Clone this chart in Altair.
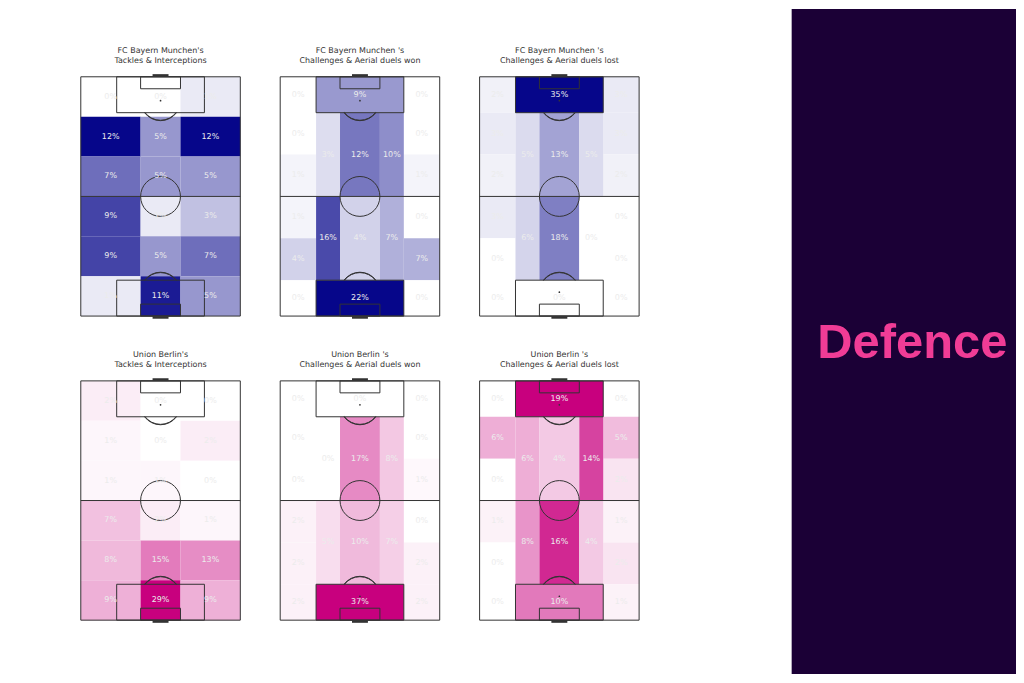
import altair as alt
import pandas as pd

# ---------------- data (percent of actions per zone) -------------
TEAMS = ["FC Bayern Munchen", "Union Berlin"]
SUBTITLES = ["Tackles & Interceptions", "Challenges & Aerial duels won", "Challenges & Aerial duels lost"]

# 3 x 6 grid, rows listed from top of pitch to bottom, columns left, centre, right
bayern_ti = [[0, 0, 1], [12, 5, 12], [7, 5, 5], [9, 1, 3], [9, 5, 7], [1, 11, 5]]
union_ti = [[2, 0, 0], [1, 0, 2], [1, 1, 0], [7, 2, 1], [8, 15, 13], [9, 29, 9]]

# positional grid: wide zones have 6 rows (top->bottom), half-spaces/centre 2 rows, boxes top/bottom
bayern_won = dict(wide_left=[0, 0, 1, 1, 4, 0], half_left=[3, 16], centre=[12, 4],
                  half_right=[10, 7], wide_right=[0, 0, 1, 0, 7, 0], boxes=[9, 22])
bayern_lost = dict(wide_left=[2, 3, 2, 3, 0, 0], half_left=[5, 6], centre=[13, 18],
                   half_right=[5, 0], wide_right=[3, 3, 2, 0, 0, 0], boxes=[35, 0])
union_won = dict(wide_left=[0, 0, 0, 2, 2, 2], half_left=[0, 5], centre=[17, 10],
                 half_right=[8, 7], wide_right=[0, 0, 1, 0, 2, 2], boxes=[0, 37])
union_lost = dict(wide_left=[0, 6, 0, 1, 0, 0], half_left=[6, 8], centre=[4, 16],
                  half_right=[14, 4], wide_right=[0, 5, 2, 1, 2, 1], boxes=[19, 10])

PANEL_TEXT = "Defence"

# ---------------- styles -------------
BAYERN_END = "#06068a"
UNION_END = "#c8007e"
LINE = "#333333"
LABEL_COLOR = "#ececec"
DARK = "#1b0036"
PINK = "#f03c96"
FONT = "DejaVu Sans"

# pitch geometry (StatsBomb 80 x 120, y measured from the top end)
PW, PL = 80, 120
TI_COLS = [0, 30, 50, 80]
TI_ROWS = [0, 20, 40, 60, 80, 100, 120]
WIDE_ROWS = [0, 18, 39, 60, 81, 102, 120]
INNER_ROWS = [18, 60, 102]


def cell(x0, x1, y0, y1, v):
    return dict(x0=x0, x1=x1, y0=y0, y1=y1, value=v, label=f"{v}%",
                lx=(x0 + x1) / 2, ly=(y0 + y1) / 2)


def cells_ti(rows):
    out = []
    for r, row in enumerate(rows):
        for c, v in enumerate(row):
            out.append(cell(TI_COLS[c], TI_COLS[c + 1], TI_ROWS[r], TI_ROWS[r + 1], v))
    return pd.DataFrame(out)


def cells_pos(d):
    out = []
    for key, (a, b) in (("wide_left", (0, 18)), ("wide_right", (62, 80))):
        for r, v in enumerate(d[key]):
            out.append(cell(a, b, WIDE_ROWS[r], WIDE_ROWS[r + 1], v))
    for key, (a, b) in (("half_left", (18, 30)), ("centre", (30, 50)), ("half_right", (50, 62))):
        for r, v in enumerate(d[key]):
            out.append(cell(a, b, INNER_ROWS[r], INNER_ROWS[r + 1], v))
    out.append(cell(18, 62, 0, 18, d["boxes"][0]))
    out.append(cell(18, 62, 102, 120, d["boxes"][1]))
    return pd.DataFrame(out)


boxes_df = pd.DataFrame(dict(x0=[0, 18, 18, 30, 30], x1=[80, 62, 62, 50, 50],
                             y0=[0, 0, 102, 0, 114], y1=[120, 18, 120, 6, 120]))
half_df = pd.DataFrame(dict(x0=[0], x1=[80], y=[60]))
goal_df = pd.DataFrame(dict(x0=[36, 36], x1=[44, 44], y=[-0.7, 120.7]))
centre_df = pd.DataFrame(dict(x=[40], y=[60]))
spot_df = pd.DataFrame(dict(x=[40, 40], y=[12, 108]))
arc_top_df = pd.DataFrame(dict(x=[40], y=[12]))
arc_bot_df = pd.DataFrame(dict(x=[40], y=[108]))

W, H = 160, 240
xs = alt.Scale(domain=[0, PW], nice=False, zero=False)
ys = alt.Scale(domain=[0, PL], nice=False, zero=False, reverse=True)


def X(f):
    return alt.X(f, type="quantitative", scale=xs, axis=None)


def Y(f):
    return alt.Y(f, type="quantitative", scale=ys, axis=None)


def pitch(df, end, lines):
    vmax = max(df["value"].max(), 1)
    heat = alt.Chart(df).mark_rect(strokeWidth=0).encode(
        x=X("x0"), x2="x1", y=Y("y0"), y2="y1",
        color=alt.Color("value:Q", scale=alt.Scale(domain=[0, vmax], range=["#ffffff", end],
                                                   interpolate="rgb"),
                        legend=None))
    boxes = alt.Chart(boxes_df).mark_rect(filled=False, color=LINE, strokeWidth=1).encode(
        x=X("x0"), x2="x1", y=Y("y0"), y2="y1")
    half = alt.Chart(half_df).mark_rule(color=LINE, strokeWidth=1).encode(
        x=X("x0"), x2="x1", y=Y("y"))
    goals = alt.Chart(goal_df).mark_rule(color=LINE, strokeWidth=2.5, clip=False).encode(
        x=X("x0"), x2="x1", y=Y("y"))
    circle = alt.Chart(centre_df).mark_point(shape="circle", size=1600, filled=False,
                                             stroke=LINE, strokeWidth=1, opacity=1).encode(
        x=X("x"), y=Y("y"))
    spots = alt.Chart(spot_df).mark_point(shape="circle", size=3, filled=True,
                                          color=LINE, opacity=1).encode(x=X("x"), y=Y("y"))
    arc_t = alt.Chart(arc_top_df).mark_arc(filled=False, stroke=LINE, strokeWidth=1,
                                           radius=20, radius2=19.6,
                                           theta=2.2143, theta2=4.0689).encode(x=X("x"), y=Y("y"))
    arc_b = alt.Chart(arc_bot_df).mark_arc(filled=False, stroke=LINE, strokeWidth=1,
                                           radius=20, radius2=19.6,
                                           theta=5.3559, theta2=7.2105).encode(x=X("x"), y=Y("y"))
    labels = alt.Chart(df).mark_text(font=FONT, fontSize=8, color=LABEL_COLOR,
                                     baseline="middle", align="center").encode(
        x=X("lx"), y=Y("ly"), text="label:N")
    return alt.layer(heat, boxes, half, goals, circle, spots, arc_t, arc_b, labels).properties(
        width=W, height=H,
        title=alt.TitleParams(text=lines, fontSize=8, font=FONT, fontWeight="normal",
                              color="#333333", lineHeight=10, offset=1, anchor="middle",
                              baseline="bottom"))


specs = [
    (cells_ti(bayern_ti), BAYERN_END, [f"{TEAMS[0]}'s", SUBTITLES[0]]),
    (cells_pos(bayern_won), BAYERN_END, [f"{TEAMS[0]} 's", SUBTITLES[1]]),
    (cells_pos(bayern_lost), BAYERN_END, [f"{TEAMS[0]} 's", SUBTITLES[2]]),
    (cells_ti(union_ti), UNION_END, [f"{TEAMS[1]}'s", SUBTITLES[0]]),
    (cells_pos(union_won), UNION_END, [f"{TEAMS[1]} 's", SUBTITLES[1]]),
    (cells_pos(union_lost), UNION_END, [f"{TEAMS[1]} 's", SUBTITLES[2]]),
]
charts = [pitch(*s) for s in specs]

ind = dict(color="independent", x="independent", y="independent")
row1 = alt.hconcat(*charts[:3], spacing=38).resolve_scale(**ind)
row2 = alt.hconcat(*charts[3:], spacing=38).resolve_scale(**ind)

spacer = alt.Chart(pd.DataFrame(dict(v=[0]))).mark_rect(opacity=0).encode(
    x=alt.value(0), x2=alt.value(10), y=alt.value(0), y2=alt.value(6)).properties(width=10, height=6)

grid = alt.vconcat(spacer, row1, row2, spacing=32).resolve_scale(**ind)

panel_df = pd.DataFrame(dict(t=[PANEL_TEXT]))
PANEL_W, PANEL_H = 225, 667
bg = alt.Chart(panel_df).mark_rect(color=DARK).encode(
    x=alt.value(0), x2=alt.value(PANEL_W), y=alt.value(0), y2=alt.value(PANEL_H))
txt = alt.Chart(panel_df).mark_text(font="Liberation Sans", fontSize=49, fontWeight="bold",
                                    color=PINK, align="center", baseline="middle").encode(
    x=alt.value(121), y=alt.value(335), text="t:N")
panel = alt.layer(bg, txt).properties(width=PANEL_W, height=PANEL_H)

chart = alt.hconcat(grid, panel, spacing=152).resolve_scale(**ind).properties(
    padding={"left": 72, "top": 0, "right": 0, "bottom": 0}
).configure_view(strokeWidth=0)

chart.save("out.html", embed_options={"renderer": "svg", "actions": False})
